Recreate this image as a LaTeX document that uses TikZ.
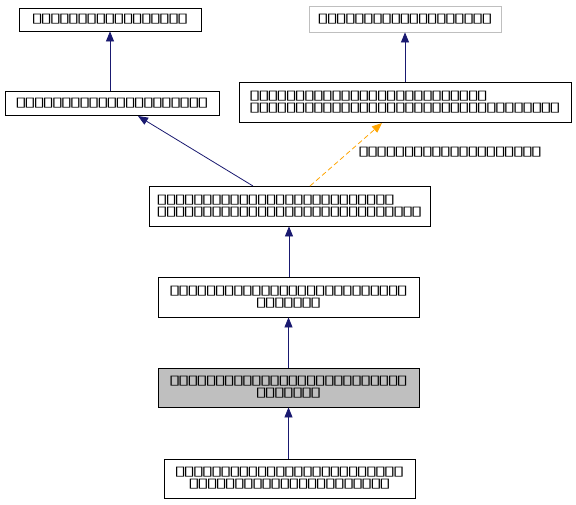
\documentclass[tikz,border=0pt]{standalone}
\usepackage{fontspec}
\newfontfamily\tofu[FakeStretch=1.7,LetterSpace=-23.5]{DejaVu Sans}
\usetikzlibrary{arrows.meta}
\definecolor{edgeblue}{HTML}{191970}
\definecolor{edgeorange}{HTML}{FFA500}
\definecolor{nodegray}{HTML}{BFBFBF}
\newcommand{\tf}[1]{\foreach \i in {1,...,#1}{▯}}
\begin{document}
\begin{tikzpicture}[x=1pt,y=-1pt,
  txt/.style={font=\tofu\fontsize{13}{12}\selectfont},
  cls/.style={txt,draw=black,fill=white,inner sep=0pt,line width=0.8pt},
  edgeline/.style={draw=edgeblue,line width=0.8pt,-{Triangle[length=10pt,width=8pt]}},
  dashline/.style={draw=edgeorange,line width=0.8pt,dash pattern=on 5pt off 3pt,-{Triangle[length=10pt,width=8pt]}}]
\useasboundingbox[fill=white] (0,0) rectangle (576,504);
\node[cls,minimum width=182pt,minimum height=23pt] (A) at (110,19.5) {\tf{17}};
\node[cls,minimum width=214pt,minimum height=24pt] (B) at (112,103) {\tf{21}};
\node[cls,draw=nodegray,minimum width=192pt,minimum height=26pt] (C) at (405,19) {\tf{19}};
\node[cls,minimum width=332pt,minimum height=40pt,align=left] (D) at (405,102) {\tf{26}\\\tf{34}};
\node[cls,minimum width=281pt,minimum height=40pt,align=left] (E) at (289.5,206) {\tf{26}\\\tf{29}};
\node[cls,minimum width=261pt,minimum height=40pt,align=center] (F) at (288.5,297) {\tf{26}\\\tf{7}};
\node[cls,fill=nodegray,minimum width=261pt,minimum height=39pt,align=center] (G) at (288.5,387.5) {\tf{26}\\\tf{7}};
\node[cls,minimum width=251pt,minimum height=39pt,align=center] (H) at (289.5,478.5) {\tf{25}\\\tf{22}};
\coordinate (Ea) at (253,186);
\coordinate (Bb) at (138,116);
\coordinate (Eb) at (310,186);
\coordinate (Db) at (382,123);
\draw[edgeline] (B.north -| A.south) -- (A.south);
\draw[edgeline] (D.north) -- (C.south);
\draw[edgeline] (Ea) -- (Bb);
\draw[dashline] (Eb) -- (Db);
\node[txt,anchor=west] (L) at (354,152) {\tf{20}};
\draw[edgeline] (F.north -| 289,0) -- (E.south -| 289,0);
\draw[edgeline] (G.north) -- (F.south);
\draw[edgeline] (H.north -| G.south) -- (G.south);
\end{tikzpicture}
\end{document}
